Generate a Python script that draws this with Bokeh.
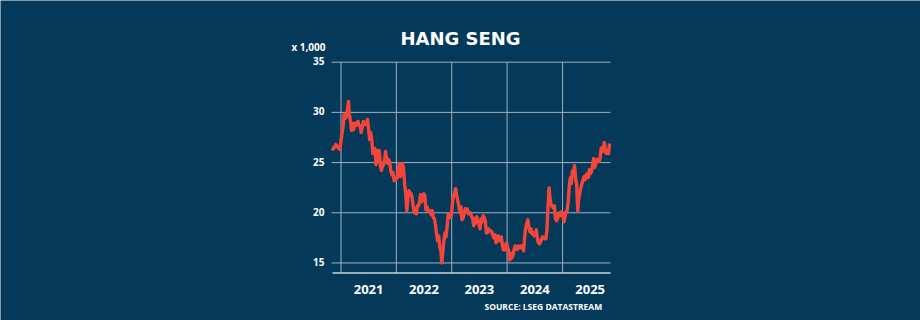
import pandas as pd
from bokeh.plotting import figure
from bokeh.models import Range1d
from bokeh.core.properties import value
from bokeh.embed import file_html
from bokeh.resources import INLINE

# Hang Seng index, weekly (Friday) closes, in thousands of points
start_date = "2020-11-06"
v2020 = [26.2, 26.5, 26.5, 26.8, 26.7, 26.5, 26.4, 26.3]
v2021 = [27.2, 27.9, 28.6, 29.8, 29.4,
         29.6, 30.2, 31.1, 29.7,
         29.1, 28.2, 28.9, 28.3,
         28.9, 28.7, 29.0, 29.1, 28.7,
         28.6, 28.0, 28.5, 29.1,
         28.9, 28.8, 28.8, 29.3,
         28.3, 27.3, 28.0, 27.3, 25.9,
         26.2, 26.4, 24.8, 25.4,
         26.2, 26.2, 24.9, 24.2,
         24.6, 24.8, 25.3, 26.1, 25.4,
         24.9, 25.3, 25.0, 24.1,
         23.8, 24.0, 23.2, 23.2, 23.4]
v2022 = [23.5, 24.4, 24.9, 23.6,
         24.6, 24.9, 24.3, 22.8,
         21.9, 20.2, 21.4, 22.2,
         22.0, 21.9, 21.5, 20.6, 20.0,
         20.4, 19.9, 20.7, 20.7,
         21.1, 21.8, 21.1, 21.7,
         21.9, 21.7, 20.3, 20.6, 20.2,
         20.2, 20.2, 19.8, 20.2,
         19.5, 19.4, 18.8, 17.9, 17.2,
         17.7, 16.6, 16.2, 15.0,
         16.2, 17.3, 18.0, 17.6,
         18.7, 19.9, 19.5, 19.6, 19.8]
v2023 = [21.0, 21.7, 22.0, 22.4,
         21.7, 21.2, 20.7, 20.0,
         20.6, 19.3, 19.5, 19.9, 20.4,
         20.3, 20.4, 19.9, 19.9,
         20.0, 19.6, 19.5, 18.7,
         19.0, 19.4, 19.6, 18.9, 18.9,
         18.4, 19.4, 19.1, 19.7,
         19.5, 19.1, 18.0, 18.0,
         18.4, 18.2, 18.2, 18.1, 17.8,
         17.5, 17.8, 17.0, 17.4,
         17.7, 17.2, 17.5, 17.6,
         16.8, 16.3, 16.8, 16.3, 17.0]
v2024 = [16.5, 16.2, 15.3, 15.95,
         15.5, 15.75, 16.3, 16.7,
         16.6, 16.35, 16.7, 16.5, 16.5,
         16.7, 16.6, 16.2, 17.65,
         18.5, 18.95, 19.3, 18.6, 18.1,
         18.4, 17.9, 18.0, 17.7,
         17.8, 18.3, 17.4, 17.0,
         16.9, 17.1, 17.4, 17.6, 17.5,
         17.4, 17.4, 18.3, 20.6,
         22.5, 21.3, 20.8, 20.6,
         20.5, 20.7, 19.4, 19.2, 19.4,
         19.9, 20.0, 19.7, 20.1]
v2025 = [19.8, 19.1, 19.6, 20.1, 20.2,
         21.1, 22.6, 23.5, 22.9,
         24.2, 24.0, 24.7, 23.4,
         22.8, 20.2, 21.4, 22.0,
         22.5, 22.9, 23.3, 23.6, 23.3,
         23.8, 23.9, 23.5, 24.3,
         23.9, 24.1, 24.8, 25.4,
         24.5, 24.9, 25.3, 25.3, 25.1,
         25.4, 26.4, 26.5, 26.1,
         27.0, 26.3, 25.9, 26.2, 25.9,
         26.9]
values = v2020 + v2021 + v2022 + v2023 + v2024 + v2025
dates = pd.date_range(start_date, periods=len(values), freq="7D")

year_labels = ["2021", "2022", "2023", "2024", "2025"]
year_bounds = ["2021-01-01", "2022-01-01", "2023-01-01", "2024-01-01", "2025-01-01"]
label_dates = ["2021-07-02", "2022-07-02", "2023-07-02", "2024-07-02", "2025-07-02"]
y_ticks = [15, 20, 25, 30, 35]
y_tick_labels = ["15", "20", "25", "30", "35"]

title_text = "HANG SENG"
unit_text = "x 1,000"
source_text = "SOURCE: LSEG DATASTREAM"

BG = "#04395a"
LINE = "#f4453b"
GRID = "#9fb1bf"
AXIS = "#c9d4dc"
WHITE = "#ffffff"

W, H = 920, 320
# plot area in pixels
PL, PR, PT, PB = 332.0, 610.0, 61.7, 272.5
x_start = pd.Timestamp("2020-11-06").value / 1e6
x_end = pd.Timestamp("2025-11-13").value / 1e6
y_lo, y_hi = 14.0, 35.0

def ms(d):
    return pd.Timestamp(d).value / 1e6

kx = (x_end - x_start) / (PR - PL)
ky = (y_hi - y_lo) / (PB - PT)

def px_x(px):
    return x_start + (px - PL) * kx

def px_y(py):
    return y_lo + (PB - py) * ky

p = figure(width=W, height=H, output_backend="svg", toolbar_location=None,
           x_axis_type="datetime",
           x_range=Range1d(px_x(0), px_x(W)), y_range=Range1d(px_y(H), px_y(0)),
           min_border=0)
p.background_fill_color = BG
p.border_fill_color = BG
p.outline_line_color = None
p.axis.visible = False
p.grid.visible = False

# horizontal gridlines
p.segment(x0=[px_x(PL - 1)] * len(y_ticks), x1=[x_end] * len(y_ticks),
          y0=y_ticks, y1=y_ticks, line_color=GRID, line_width=1)
# vertical year gridlines
yb = [ms(d) for d in year_bounds]
p.segment(x0=yb, x1=yb, y0=[y_lo] * len(yb), y1=[y_hi] * len(yb),
          line_color=GRID, line_width=1)
# bottom axis line
p.segment(x0=[px_x(PL)], x1=[x_end], y0=[y_lo], y1=[y_lo], line_color=AXIS, line_width=1.5)

p.line(dates, values, line_width=3.4, line_color=LINE, line_join="round")

# y tick labels (baseline on gridline)
p.text(x=[px_x(324)] * len(y_ticks), y=[t + 0.1 for t in y_ticks], text=y_tick_labels,
       text_align="right", text_baseline="alphabetic",
       text_font=value("Open Sans"), text_font_style="bold",
       text_font_size="10px", text_color=WHITE)

# x year labels
p.text(x=[ms(d) for d in label_dates], y=[px_y(289)] * len(label_dates), text=year_labels,
       text_align="center", text_baseline="alphabetic",
       text_font=value("Open Sans"), text_font_style="bold",
       text_font_size="13px", text_color=WHITE)

p.text(x=[px_x(460)], y=[px_y(38.3)], text=[title_text],
       text_align="center", text_baseline="alphabetic",
       text_font=value("DejaVu Sans"), text_font_style="bold",
       text_font_size="18px", text_color=WHITE)
p.text(x=[px_x(325)], y=[px_y(46.5)], text=[unit_text],
       text_align="right", text_baseline="alphabetic",
       text_font=value("Open Sans"), text_font_style="bold",
       text_font_size="10px", text_color=WHITE)
p.text(x=[px_x(601.7)], y=[px_y(306.3)], text=[source_text],
       text_align="right", text_baseline="alphabetic",
       text_font=value("Open Sans"), text_font_style="bold",
       text_font_size="8.5px", text_color=WHITE)

open("out.html", "w").write(file_html(p, INLINE))
